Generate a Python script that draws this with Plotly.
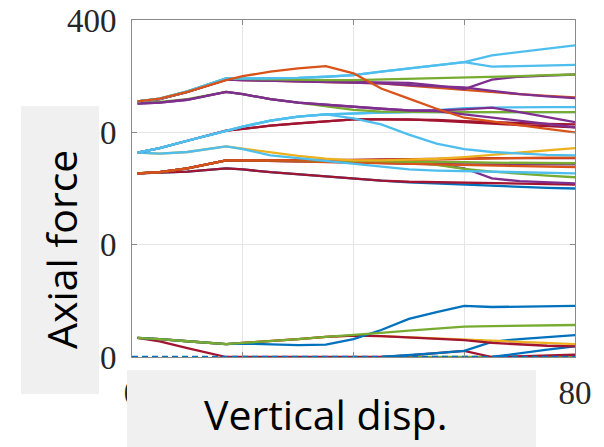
import plotly.graph_objects as go

# ---------------- data ----------------
disp = [1, 5, 10, 17, 20, 25, 30, 35, 40, 45, 50, 55, 60, 65, 70, 75, 80]

orange_top   = [255, 260, 272, 293, 300, 308, 314, 318, 305, 278, 260, 242, 226, 219, 212, 206, 200]
cyan_top_a   = [255, 260, 273, 296, 296, 296, 297, 299, 302, 308, 314, 319, 325, 337, 343, 349, 355]
cyan_top_b   = [255, 260, 273, 296, 296, 296, 297, 299, 302, 308, 314, 319, 325, 317, 318, 319, 320]
green_top    = [255, 260, 273, 296, 295, 294, 293, 293, 293, 294, 295, 296, 297, 298, 300, 302, 303]
purple_flat  = [255, 259, 272, 294, 293, 292, 291, 290, 289, 288, 288, 283, 277, 294, 299, 301, 303]
purple_six   = [255, 259, 272, 294, 293, 292, 291, 290, 289, 287, 284, 282, 280, 274, 268, 264, 261]
orange_sev   = [255, 259, 272, 294, 293, 292, 291, 290, 289, 287, 283, 279, 275, 272, 268, 265, 262]
purple_four  = [251, 253, 258, 272, 268, 259, 253, 249, 245, 242, 239, 239, 241, 244, 236, 227, 218]
purple_fourb = [251, 253, 258, 272, 268, 259, 253, 249, 245, 242, 239, 238, 232, 226, 220, 214, 209]
green_eight  = [252, 254, 259, 272, 268, 259, 253, 247, 240, 237, 236, 236, 236, 236, 236, 236, 236]

cyan_nine    = [164, 172, 185, 203, 210, 221, 228, 232, 225, 214, 196, 180, 170, 165, 162, 160, 159]
cyan_sixteen = [164, 172, 185, 203, 210, 221, 228, 232, 234, 235, 236, 239, 243, 244, 245, 245, 245]
cyan_sevteen = [164, 172, 185, 203, 210, 221, 228, 232, 234, 235, 236, 236, 236, 236, 236, 236, 236]
dred_ten_a   = [164, 172, 185, 203, 206, 212, 216, 220, 223, 223, 223, 222, 220, 218, 216, 215, 214]
dred_ten_b   = [164, 172, 185, 203, 206, 212, 216, 220, 223, 223, 223, 221, 218, 215, 213, 211, 209]
cyan_eleven  = [164, 162, 165, 175, 170, 159, 154, 149, 144, 139, 134, 132, 131, 130, 129, 128, 127]
yellow_twelve= [164, 162, 165, 175, 171, 164, 158, 153, 150, 150, 151, 153, 156, 160, 164, 168, 172]

purple_mid   = [127, 129, 136, 150, 150, 150, 149, 148, 147, 146, 145, 143, 136, 118, 113, 111, 109]
dred_mid     = [127, 128, 130, 136, 134, 129, 125, 121, 117, 114, 112, 111, 110, 109, 108, 108, 107]
blue_mid     = [127, 128, 130, 136, 134, 129, 125, 121, 117, 114, 111, 109, 106, 104, 102, 101, 100]
orange_m1    = [127, 129, 136, 150, 150, 150, 150, 150, 150, 150, 151, 152, 153, 154, 154, 155, 155]
orange_m2    = [127, 129, 136, 150, 150, 149, 148, 147, 146, 145, 144, 143, 142, 141, 140, 139, 138]
green_m1     = [127, 129, 136, 150, 150, 150, 150, 150, 150, 149, 148, 148, 147, 146, 146, 146, 145]
green_m2     = [127, 129, 136, 150, 150, 150, 150, 149, 148, 148, 147, 142, 135, 130, 126, 123, 120]
dred_m2      = [127, 129, 136, 150, 150, 150, 150, 151, 151, 152, 152, 153, 153, 154, 154, 154, 154]
purple_m2    = [127, 129, 136, 150, 150, 149, 148, 147, 146, 145, 144, 143, 143, 143, 143, 143, 143]

green_bot    = [-166, -168, -172, -177, -175, -172, -168, -164, -161, -157, -153, -149, -146, -145, -144, -143, -143]
blue_bot1    = [-166, -168, -172, -177, -176, -178, -179, -178, -168, -152, -132, -120, -109, -111, -110, -109, -109]
dred_bot1    = [-166, -172, -184, -200, -200, -200, -200, -200, -200, -200, -197, -193, -189, -200, -199, -198, -196]
dred_bot2    = [-166, -168, -172, -177, -175, -172, -168, -164, -162, -163, -165, -168, -170, -175, -178, -180, -181]
yellow_bot   = [-166, -168, -172, -177, -175, -172, -168, -164, -162, -163, -165, -168, -170, -171, -173, -175, -177]
blue_bot2    = [None, None, None, None, None, None, None, None, None, -200, -197, -193, -189, -173, -168, -164, -161]
blue_bot3    = [None, None, None, None, None, None, None, None, None, None, None, None, None, -200, -193, -187, -181]
green_base   = [None, None, None, None, None, None, None, None, None, -200, -200, -200, -200, -200, -200, -200, -200]
blue_base    = [-200, -200, -200, -200, -200, -200, -200, -200, -200, -200, -200, -200, -200, -200, -200, -200, -200]

x_ticks = [0, 20, 40, 60, 80]
x_tick_text = ["0", "", "", "", "80"]   # 20/40/60 lie under the label box
y_ticks = [-200, 0, 200, 400]

# ---------------- style ----------------
BLUE, ORANGE, YELLOW, PURPLE = "#0072BD", "#D95319", "#EDB120", "#7E2F8E"
GREEN, CYAN, DRED = "#77AC30", "#4DBEEE", "#A2142F"

series = [
    (green_base, GREEN), (dred_bot1, DRED), (blue_bot3, BLUE), (blue_bot2, BLUE),
    (yellow_bot, YELLOW), (dred_bot2, DRED), (blue_bot1, BLUE), (green_bot, GREEN),
    (blue_mid, BLUE), (dred_mid, DRED), (purple_mid, PURPLE), (purple_m2, PURPLE),
    (green_m2, GREEN), (orange_m2, ORANGE), (green_m1, GREEN), (dred_m2, DRED),
    (orange_m1, ORANGE), (yellow_twelve, YELLOW), (cyan_eleven, CYAN),
    (dred_ten_b, DRED), (dred_ten_a, DRED), (cyan_sevteen, CYAN), (cyan_sixteen, CYAN),
    (cyan_nine, CYAN),
    (green_eight, GREEN), (purple_fourb, PURPLE), (purple_four, PURPLE),
    (orange_sev, ORANGE), (purple_six, PURPLE), (purple_flat, PURPLE),
    (green_top, GREEN), (cyan_top_b, CYAN), (cyan_top_a, CYAN), (orange_top, ORANGE),
]

fig = go.Figure()
for vals, col in series:
    fig.add_trace(go.Scatter(x=disp, y=vals, mode="lines",
                             line=dict(color=col, width=2.3), showlegend=False,
                             hoverinfo="skip"))
fig.add_trace(go.Scatter(x=[0] + disp[1:], y=blue_base, mode="lines",
                         line=dict(color=BLUE, width=2.3, dash="6px,4px"),
                         showlegend=False, hoverinfo="skip"))

axis_col = "#8a8a8a"
tickfont = dict(family="Liberation Serif", size=33, color="#262626")
fig.update_xaxes(range=[0, 80], tickvals=x_ticks, ticktext=x_tick_text,
                 showgrid=True, gridcolor="#e6e6e6", gridwidth=1,
                 showline=True, linecolor=axis_col, linewidth=1, mirror="ticks",
                 ticks="inside", ticklen=5, tickcolor=axis_col, automargin=False,
                 tickfont=tickfont, ticklabelstandoff=6, zeroline=False)
fig.update_yaxes(range=[-200, 400], tickvals=y_ticks, ticktext=[str(v) for v in y_ticks],
                 showgrid=True, gridcolor="#e6e6e6", gridwidth=1,
                 showline=True, linecolor=axis_col, linewidth=1, mirror="ticks",
                 ticks="inside", ticklen=5, tickcolor=axis_col, automargin=False,
                 tickfont=tickfont, ticklabelstandoff=8, zeroline=False)

W, H = 604, 447
ml, mr, mt, mb = 132, 29, 20, 90

def px(xp):
    return (xp - ml) / (W - ml - mr)

def py(yp):
    return 1 - (yp - mt) / (H - mt - mb)

shapes = [
    dict(type="rect", xref="paper", yref="paper", x0=px(21), x1=px(99), y0=py(394), y1=py(106),
         fillcolor="#f0f0f0", line=dict(width=0), layer="above"),
    dict(type="rect", xref="paper", yref="paper", x0=px(127), x1=px(536), y0=py(447), y1=py(370),
         fillcolor="#f0f0f0", line=dict(width=0), layer="above"),
]
labfont = dict(family="Open Sans", size=41, color="#000000")
annotations = [
    dict(text="Axial force", xref="paper", yref="paper", x=px(61), y=py(250),
         xanchor="center", yanchor="middle", textangle=-90, showarrow=False, font=labfont),
    dict(text="Vertical disp.", xref="paper", yref="paper", x=px(325), y=py(414),
         xanchor="center", yanchor="middle", showarrow=False, font=labfont),
]

fig.update_layout(width=W, height=H, margin=dict(l=ml, r=mr, t=mt, b=mb),
                  plot_bgcolor="white", paper_bgcolor="white",
                  shapes=shapes, annotations=annotations, hovermode=False)

fig.write_html("out.html")
